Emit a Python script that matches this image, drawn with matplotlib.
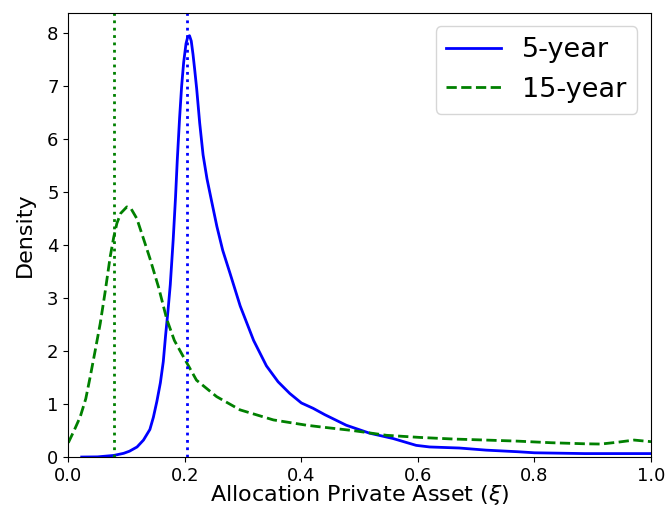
import matplotlib
matplotlib.use("Agg")
import matplotlib.pyplot as plt

# 5-year density curve
x5 = [0.023, 0.05, 0.078, 0.095, 0.105, 0.118, 0.129, 0.14, 0.146, 0.152, 0.158, 0.163,
      0.167, 0.171, 0.175, 0.18, 0.184, 0.187, 0.191, 0.1945, 0.198, 0.202, 0.205, 0.208,
      0.211, 0.214, 0.217, 0.2203, 0.2255, 0.2313, 0.238, 0.2455, 0.255, 0.265, 0.278,
      0.295, 0.318, 0.34, 0.36, 0.38, 0.40, 0.42, 0.44, 0.477, 0.517, 0.557, 0.597, 0.62,
      0.671, 0.717, 0.771, 0.80, 0.886, 1.0]
y5 = [0.0, 0.003, 0.03, 0.07, 0.11, 0.19, 0.32, 0.52, 0.75, 1.05, 1.4, 1.8,
      2.3, 2.75, 3.25, 4.1, 4.9, 5.6, 6.4, 7.0, 7.45, 7.8, 7.93, 7.95,
      7.85, 7.6, 7.3, 6.95, 6.3, 5.7, 5.25, 4.85, 4.35, 3.9, 3.45,
      2.85, 2.2, 1.72, 1.42, 1.2, 1.02, 0.92, 0.8, 0.6, 0.45, 0.35, 0.22, 0.19,
      0.17, 0.13, 0.10, 0.08, 0.065, 0.065]

# 15-year density curve
x15 = [0.0, 0.01, 0.0205, 0.03, 0.0377, 0.046, 0.0548, 0.063, 0.0719, 0.078, 0.0834, 0.09,
       0.1005, 0.108, 0.1176, 0.129, 0.14, 0.155, 0.169, 0.182, 0.1976, 0.22, 0.2545,
       0.2947, 0.352, 0.409, 0.4315, 0.488, 0.546, 0.603, 0.66, 0.717, 0.771, 0.828,
       0.886, 0.914, 0.943, 0.971, 1.0]
y15 = [0.27, 0.5, 0.76, 1.1, 1.52, 2.0, 2.52, 3.1, 3.78, 4.15, 4.41, 4.6,
       4.72, 4.68, 4.5, 4.12, 3.75, 3.2, 2.6, 2.2, 1.89, 1.45, 1.14,
       0.89, 0.70, 0.60, 0.57, 0.50, 0.41, 0.37, 0.34, 0.32, 0.30, 0.27,
       0.25, 0.245, 0.28, 0.32, 0.29]

# modes (vertical dotted lines)
mode5 = 0.2035
mode15 = 0.0776

fig = plt.figure(figsize=(6.65, 5.17), dpi=100)
ax = fig.add_axes([0.1027, 0.116, 0.8763, 0.859])

ax.plot(x5, y5, color="blue", lw=2, label="5-year", solid_joinstyle="round")
ax.plot(x15, y15, color="green", lw=2, ls="--", label="15-year")
ax.axvline(mode5, color="blue", ls=":", lw=2)
ax.axvline(mode15, color="green", ls=":", lw=2)

ax.set_xlim(0, 1)
ax.set_ylim(0, 8.38)
ax.set_xticks([0.0, 0.2, 0.4, 0.6, 0.8, 1.0])
ax.set_yticks(range(0, 9))
ax.tick_params(labelsize=13)
ax.set_xlabel(r"Allocation Private Asset ($\xi$)", fontsize=16, labelpad=-1)
ax.set_ylabel("Density", fontsize=16, labelpad=9)
ax.legend(fontsize=19.5, loc="upper right")

fig.savefig("out.png", dpi=100)
